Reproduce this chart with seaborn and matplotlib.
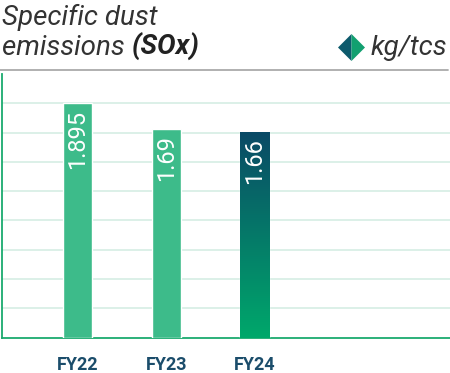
import numpy as np
import pandas as pd
import matplotlib
matplotlib.use("Agg")
import matplotlib.pyplot as plt
from matplotlib.lines import Line2D
from matplotlib.patches import Polygon
from matplotlib.colors import LinearSegmentedColormap
import seaborn as sns

categories = ["FY22", "FY23", "FY24", "", " "]
values = [1.895, 1.69, 1.66, np.nan, np.nan]
labels = ["1.895", "1.69", "1.66"]

sns.set_theme(style="white")
plt.rcParams['font.family'] = ['Roboto', 'DejaVu Sans']

W, H = 450, 373
fig = plt.figure(figsize=(W / 100, H / 100), dpi=100)
base_y = 337.7
top_y = 74
left_x = 2
ax = fig.add_axes([left_x / W, (H - base_y) / H, (W - left_x) / W, (base_y - top_y) / H])

df = pd.DataFrame({"cat": categories, "val": values})
green = "#3dbb8a"
sns.barplot(data=df, x="cat", y="val", color=green, width=0.33, ax=ax,
            saturation=1, order=categories, zorder=3)

unit = 123.7
ax.set_ylim(0, (base_y - top_y) / unit)
ax.set_xlim(-0.86, 4.215)
step = 1.895 / 8
ax.set_yticks([step * k for k in range(1, 9)])
ax.yaxis.grid(True, color="#d6ede4", linewidth=1.2, zorder=0)
ax.set_yticklabels([])
ax.tick_params(axis="y", length=0)
ax.set_xlabel("")
ax.set_ylabel("")
for s in ["top", "right"]:
    ax.spines[s].set_visible(False)
for s in ["left", "bottom"]:
    ax.spines[s].set_color("#1aaa6e")
    ax.spines[s].set_linewidth(1.3)

ax.set_xticks([0, 1, 2])
ax.set_xticklabels(categories[:3])
ax.tick_params(axis="x", direction="out", length=10, width=1.3, color="#1aaa6e",
               pad=3.5, labelsize=13, labelcolor="#1b4d6b")
for t in ax.get_xticklabels():
    t.set_fontweight("bold")

# gradient for FY24 bar
patch = ax.patches[2]
x0, y0 = patch.get_x(), patch.get_y()
w, h = patch.get_width(), patch.get_height()
cmap = LinearSegmentedColormap.from_list("g", ["#00a86b", "#0a4a66"])
grad = np.linspace(0, 1, 256).reshape(-1, 1)
im = ax.imshow(grad, cmap=cmap, origin="lower", aspect="auto",
               extent=[x0, x0 + w, y0, y0 + h], zorder=4)
im.set_clip_path(patch)
ax.set_xlim(-0.86, 4.215)
ax.set_ylim(0, (base_y - top_y) / unit)

for i, lab in enumerate(labels):
    ax.text(i, values[i] - 0.05, lab, rotation=90, ha="center", va="top",
            color="white", fontsize=17, zorder=5)

# top separator
fig.add_artist(Line2D([0, 448 / W], [(H - 70) / H] * 2, color="#aaaaaa", linewidth=1.3))

# title
fs = 20
fig.text(2 / W, 1 - 25 / H, "Specific dust", fontsize=fs, style="italic",
         fontweight="normal", color="#333333", va="baseline", ha="left")
t1 = fig.text(2 / W, 1 - 55 / H, "emissions ", fontsize=fs, style="italic",
              fontweight="normal", color="#333333", va="baseline", ha="left")
fig.canvas.draw()
bb = t1.get_window_extent()
fig.text(bb.x1 / W, 1 - 55 / H, "(SOx)", fontsize=fs, style="italic",
         fontweight="bold", color="#222222", va="baseline", ha="left")
fig.text(447 / W, 1 - 55 / H, "kg/tcs", fontsize=fs, style="italic",
         fontweight="normal", color="#333333", va="baseline", ha="right")

# diamond icon
cx, cy, r = 351.5, 47.5, 13.5
def P(x, y):
    return (x / W, 1 - y / H)
fig.add_artist(Polygon([P(cx, cy - r), P(cx - r, cy), P(cx, cy + r)], closed=True,
                       transform=fig.transFigure, facecolor="#0d5a6c", edgecolor="none"))
fig.add_artist(Polygon([P(cx, cy - r), P(cx + r, cy), P(cx, cy + r)], closed=True,
                       transform=fig.transFigure, facecolor="#12a070", edgecolor="none"))

fig.savefig("out.png", dpi=100)
